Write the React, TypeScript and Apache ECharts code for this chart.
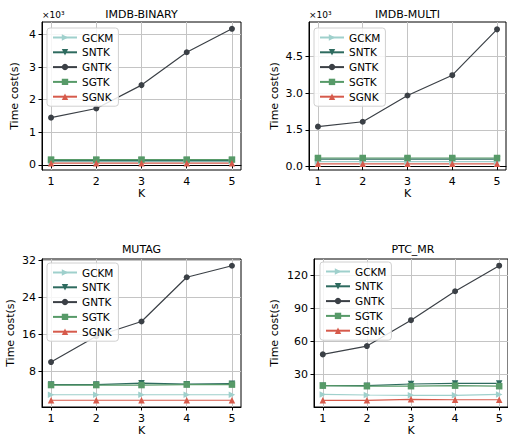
import React, { useEffect, useRef } from "react";
import * as echarts from "echarts";

// ---------- data ----------
const kValues = [1, 2, 3, 4, 5];
const seriesNames = ["GCKM", "SNTK", "GNTK", "SGTK", "SGNK"];
const panelTitles = ["IMDB-BINARY", "IMDB-MULTI", "MUTAG", "PTC_MR"];

// IMDB-BINARY (×10³ s)
const imdbBinaryGCKM = [0.1, 0.1, 0.1, 0.1, 0.1];
const imdbBinarySNTK = [0.13, 0.13, 0.13, 0.13, 0.13];
const imdbBinaryGNTK = [1.45, 1.73, 2.45, 3.46, 4.18];
const imdbBinarySGTK = [0.16, 0.16, 0.16, 0.16, 0.16];
const imdbBinarySGNK = [0.05, 0.05, 0.05, 0.05, 0.05];

// IMDB-MULTI (×10³ s)
const imdbMultiGCKM = [0.2, 0.2, 0.2, 0.2, 0.2];
const imdbMultiSNTK = [0.3, 0.3, 0.3, 0.3, 0.3];
const imdbMultiGNTK = [1.63, 1.83, 2.9, 3.73, 5.6];
const imdbMultiSGTK = [0.35, 0.35, 0.35, 0.35, 0.35];
const imdbMultiSGNK = [0.11, 0.11, 0.11, 0.11, 0.11];

// MUTAG (s)
const mutagGCKM = [2.9, 2.9, 2.9, 2.9, 2.9];
const mutagSNTK = [5.1, 5.1, 5.4, 5.2, 5.3];
const mutagGNTK = [10.0, 15.6, 18.8, 28.4, 30.9];
const mutagSGTK = [5.0, 5.0, 5.0, 5.1, 5.1];
const mutagSGNK = [1.7, 1.7, 1.7, 1.7, 1.7];

// PTC_MR (s)
const ptcGCKM = [12.0, 11.5, 11.2, 11.2, 12.0];
const ptcSNTK = [20.0, 20.0, 21.5, 22.0, 22.0];
const ptcGNTK = [48.4, 56.0, 79.5, 105.8, 129.0];
const ptcSGTK = [20.0, 19.5, 19.5, 20.0, 19.5];
const ptcSGNK = [6.7, 6.7, 7.6, 7.2, 7.2];

const panelData = [
  [imdbBinaryGCKM, imdbBinarySNTK, imdbBinaryGNTK, imdbBinarySGTK, imdbBinarySGNK],
  [imdbMultiGCKM, imdbMultiSNTK, imdbMultiGNTK, imdbMultiSGTK, imdbMultiSGNK],
  [mutagGCKM, mutagSNTK, mutagGNTK, mutagSGTK, mutagSGNK],
  [ptcGCKM, ptcSNTK, ptcGNTK, ptcSGTK, ptcSGNK],
];

const yTickValues = [
  [0, 1, 2, 3, 4],
  [0, 1.5, 3, 4.5],
  [8, 16, 24, 32],
  [30, 60, 90, 120],
];
const yRanges = [
  [-0.16, 4.39],
  [-0.14, 5.9],
  [0.24, 32.36],
  [0.6, 135.1],
];
const xTickValues = [1, 2, 3, 4, 5];
const xRange = [0.8, 5.2];

// ---------- styles / layout ----------
const FONT = "DejaVu Sans";
const colors = ["#9fd0cc", "#2e6b5f", "#3b4046", "#579a68", "#d65a4b"];
const symbols = ["triangle", "triangle", "circle", "rect", "triangle"];
const symbolRotates = [-90, 180, 0, 0, 0];

const grids = [
  { left: 42, top: 22, width: 199, height: 148 },
  { left: 309, top: 22, width: 197, height: 148 },
  { left: 42, top: 259, width: 199, height: 148 },
  { left: 314, top: 259, width: 199, height: 148 },
];
const yNameGaps = [22, 29, 26, 34];
const legendPos = [
  { left: 47, top: 28 },
  { left: 314, top: 28 },
  { left: 47, top: 263 },
  { left: 320, top: 262 },
];
const yLabelFormat = [
  (v: number) => String(v),
  (v: number) => v.toFixed(1),
  (v: number) => String(v),
  (v: number) => String(v),
];

export default function App() {
  const ref = useRef<HTMLDivElement>(null);

  useEffect(() => {
    if (!ref.current) return;
    const chart = echarts.init(ref.current, undefined, { renderer: "svg" });

    const xAxis = grids.map((_, p) => ({
      type: "value",
      gridIndex: p,
      min: xRange[0],
      max: xRange[1],
      name: "K",
      nameLocation: "middle",
      nameGap: 18,
      nameTextStyle: { fontFamily: FONT, fontSize: 11, color: "#000" },
      axisLine: { show: true, lineStyle: { color: "#000", width: 1 } },
      axisTick: { show: true, length: 3.5, customValues: xTickValues, lineStyle: { color: "#000" } },
      axisLabel: {
        customValues: xTickValues,
        fontFamily: FONT,
        fontSize: 11,
        color: "#000",
        margin: 6,
      },
      splitLine: { show: true, lineStyle: { color: "#c4c4c4", width: 1 } },
    }));

    const yAxis = grids.map((_, p) => ({
      type: "value",
      gridIndex: p,
      min: yRanges[p][0],
      max: yRanges[p][1],
      name: "Time cost(s)",
      nameLocation: "middle",
      nameGap: yNameGaps[p],
      nameTextStyle: { fontFamily: FONT, fontSize: 11, color: "#000" },
      axisLine: { show: true, lineStyle: { color: "#000", width: 1 } },
      axisTick: { show: true, length: 3.5, customValues: yTickValues[p], lineStyle: { color: "#000" } },
      axisLabel: {
        customValues: yTickValues[p],
        formatter: yLabelFormat[p],
        fontFamily: FONT,
        fontSize: 11,
        color: "#000",
        margin: 6,
      },
      splitLine: { show: true, lineStyle: { color: "#c4c4c4", width: 1 } },
    }));

    const series: any[] = [];
    panelData.forEach((rows, p) => {
      rows.forEach((vals, i) => {
        series.push({
          type: "line",
          name: seriesNames[i],
          xAxisIndex: p,
          yAxisIndex: p,
          data: kValues.map((k, j) => [k, vals[j]]),
          symbol: symbols[i],
          symbolSize: i === 2 ? 6 : 6.5,
          symbolRotate: symbolRotates[i],
          showSymbol: true,
          lineStyle: { color: colors[i], width: 1.2 },
          itemStyle: { color: colors[i] },
          emphasis: { disabled: true },
        });
      });
    });

    const legend = legendPos.map((pos) => ({
      data: seriesNames,
      orient: "vertical",
      left: pos.left,
      top: pos.top,
      padding: [4, 5, 4, 5],
      itemWidth: 24,
      itemHeight: 8,
      itemGap: 3.8,
      backgroundColor: "rgba(255,255,255,0.85)",
      borderColor: "#d0d0d0",
      borderWidth: 1,
      borderRadius: 3,
      textStyle: { fontFamily: FONT, fontSize: 10.5, color: "#000" },
      selectedMode: false,
    }));

    const titleCenters = grids.map((g) => g.left + g.width / 2);
    const titleY = [14, 14, 249, 249];
    const graphic: any[] = [];
    panelTitles.forEach((t, p) => {
      graphic.push({
        type: "text",
        x: p === 3 ? 413 : titleCenters[p],
        y: titleY[p],
        style: {
          text: t,
          fontFamily: FONT,
          fontSize: 11,
          fill: "#000",
          align: "center",
          verticalAlign: "middle",
        },
      });
    });
    [0, 1].forEach((p) => {
      graphic.push({
        type: "text",
        x: grids[p].left,
        y: 15,
        style: {
          text: "×10³",
          fontFamily: FONT,
          fontSize: 9,
          fill: "#000",
          align: "left",
          verticalAlign: "middle",
        },
      });
    });

    chart.setOption({
      animation: false,
      backgroundColor: "#fff",
      grid: grids.map((g) => ({ ...g, show: true, borderColor: "#000", borderWidth: 1, backgroundColor: "transparent" })),
      xAxis,
      yAxis,
      series,
      legend,
      graphic,
    });

    return () => chart.dispose();
  }, []);

  return (
    <div
      ref={ref}
      style={{ position: "fixed", left: 0, top: 0, width: 508, height: 437, background: "#fff" }}
    />
  );
}
